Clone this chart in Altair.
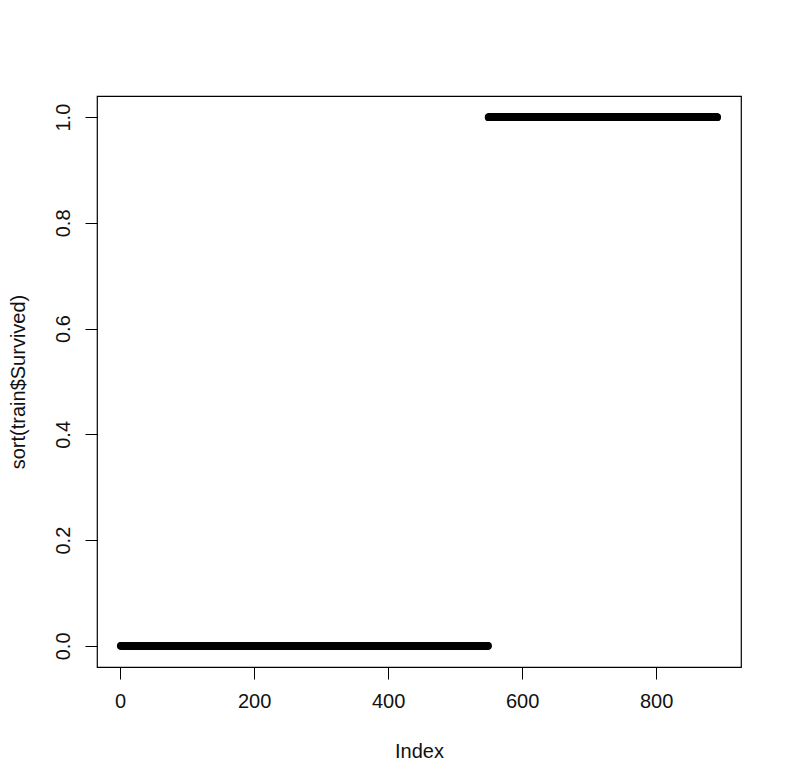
import altair as alt
import pandas as pd

# sort(train$Survived): 549 zeros (did not survive) then 342 ones (survived)
n_died = 549
n_survived = 342
sorted_values = [0] * n_died + [1] * n_survived
index = list(range(1, len(sorted_values) + 1))

x_ticks = [0, 200, 400, 600, 800]
y_ticks = [0.0, 0.2, 0.4, 0.6, 0.8, 1.0]

df = pd.DataFrame({"Index": index, "value": sorted_values})

W, H = 644, 571
FONT = "Liberation Sans"

chart = (
    alt.Chart(df)
    .mark_point(shape="circle", filled=False, color="black", size=42, strokeWidth=1.4, opacity=1)
    .encode(
        x=alt.X(
            "Index:Q",
            scale=alt.Scale(domain=[-34.6, 926.6], nice=False, zero=False),
            axis=alt.Axis(
                values=x_ticks,
                title="Index",
                grid=False,
                domain=False,
                tickSize=12,
                tickColor="black",
                labelPadding=12,
                labelFontSize=20,
                labelFont=FONT,
                labelColor="#111111",
                labelFlush=False,
                titleFont=FONT,
                titleFontSize=20,
                titleFontWeight="normal",
                titleColor="#111111",
                titleX=W / 2,
                titleY=84,
                titleBaseline="middle",
                titleAlign="center",
            ),
        ),
        y=alt.Y(
            "value:Q",
            scale=alt.Scale(domain=[-0.04, 1.04], nice=False, zero=False),
            axis=alt.Axis(
                values=y_ticks,
                format=".1f",
                title="sort(train$Survived)",
                grid=False,
                domain=False,
                tickSize=12,
                tickColor="black",
                labelAngle=270,
                labelAlign="center",
                labelBaseline="bottom",
                labelPadding=12,
                labelFontSize=20,
                labelFont=FONT,
                labelColor="#111111",
                labelFlush=False,
                titleFont=FONT,
                titleFontSize=20,
                titleFontWeight="normal",
                titleColor="#111111",
                titleAngle=270,
                titleX=-79,
                titleY=H / 2,
                titleBaseline="middle",
                titleAlign="center",
            ),
        ),
    )
    .properties(
        width=W,
        height=H,
        background="white",
        autosize=alt.AutoSizeParams(type="none"),
        padding={"left": 89, "top": 88, "right": 40, "bottom": 100},
    )
    .configure_view(stroke="black", strokeWidth=1.2)
)

chart.save("out.html", embed_options={"renderer": "svg", "actions": False})
